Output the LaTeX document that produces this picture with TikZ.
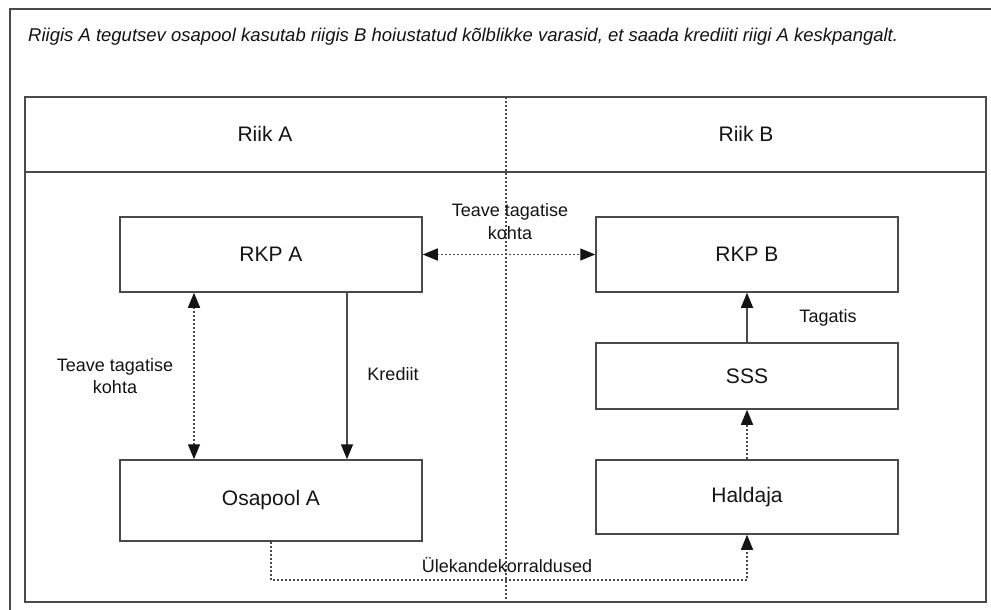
\documentclass[tikz,border=0pt]{standalone}
\usepackage{fontspec}
\setmainfont{Liberation Sans}
\usetikzlibrary{arrows.meta}
\definecolor{ln}{HTML}{4A4A4A}
\definecolor{tx}{HTML}{141414}
\begin{document}
\begin{tikzpicture}[x=1bp,y=-1bp,
  frameline/.style={draw=ln,line width=1.5bp},
  boxnode/.style={draw=ln,line width=1.5bp,fill=white,minimum width=302bp,text=tx,
     font=\fontsize{21bp}{24bp}\selectfont,inner sep=0pt},
  lbl/.style={text=tx,font=\fontsize{18bp}{22.5bp}\selectfont,align=center,inner sep=0pt},
  hdr/.style={text=tx,font=\fontsize{21bp}{24bp}\selectfont,inner sep=0pt},
  tip/.style={-{Triangle[length=15bp,width=12bp,color=tx]}},
  bitip/.style={{Triangle[length=15bp,width=12bp,color=tx]}-{Triangle[length=15bp,width=12bp,color=tx]}},
  dotline/.style={draw=ln,line width=1.4bp,dash pattern=on 1.8bp off 2.2bp},
  solidline/.style={draw=ln,line width=1.5bp}]
\useasboundingbox (0,0) rectangle (991,610);
\fill[white] (0,0) rectangle (991,610);
% outer frame
\draw[frameline] (10,612) -- (10,9) -- (995,9);
% title
\node[anchor=base west,text=tx,inner sep=0pt,font=\fontsize{18.5bp}{22bp}\selectfont\itshape] (title) at (28,42)
 {Riigis A tegutsev osapool kasutab riigis B hoiustatud kõlblikke varasid, et saada krediiti riigi A keskpangalt.};
% table
\draw[frameline] (25,97) rectangle (986,602);
\draw[frameline] (25,172) -- (986,172);
\draw[dotline] (506,97) -- (506,602);
\node[hdr] (riika) at (265,134) {Riik A};
\node[hdr] (riikb) at (746,134) {Riik B};
% boxes
\node[boxnode,minimum height=75bp] (rkpa) at (271,254.5) {RKP A};
\node[boxnode,minimum height=81bp] (osa) at (271,500.5) {Osapool A};
\node[boxnode,minimum height=75bp] (rkpb) at (747,254.5) {RKP B};
\node[boxnode,minimum height=66bp] (sss) at (747,376) {SSS};
\node[boxnode,minimum height=74bp] (hal) at (747,497) {Haldaja};
% connectors
\draw[dotline,bitip] (rkpa.east) -- (rkpb.west);
\draw[dotline,bitip] ([xshift=-77bp]rkpa.south) -- ([xshift=-77bp]osa.north);
\draw[solidline,tip] ([xshift=76bp]rkpa.south) -- ([xshift=76bp]osa.north);
\draw[solidline,tip] (sss.north) -- (rkpb.south);
\draw[dotline,tip] (hal.north) -- (sss.south);
\coordinate (ubot) at (507,580);
\draw[dotline,tip] (osa.south) -- (osa.south |- ubot) -- (hal.south |- ubot) -- (hal.south);
% labels
\node[lbl] (l1) at (510,221.5) {Teave tagatise\\kohta};
\node[lbl] (l2) at (115,376) {Teave tagatise\\kohta};
\node[lbl] (l3) at (393,374) {Krediit};
\node[lbl] (l4) at (828,318) {Tagatis};
\node[lbl] (l5) at (507,565) {Ülekandekorraldused};
\end{tikzpicture}
\end{document}
